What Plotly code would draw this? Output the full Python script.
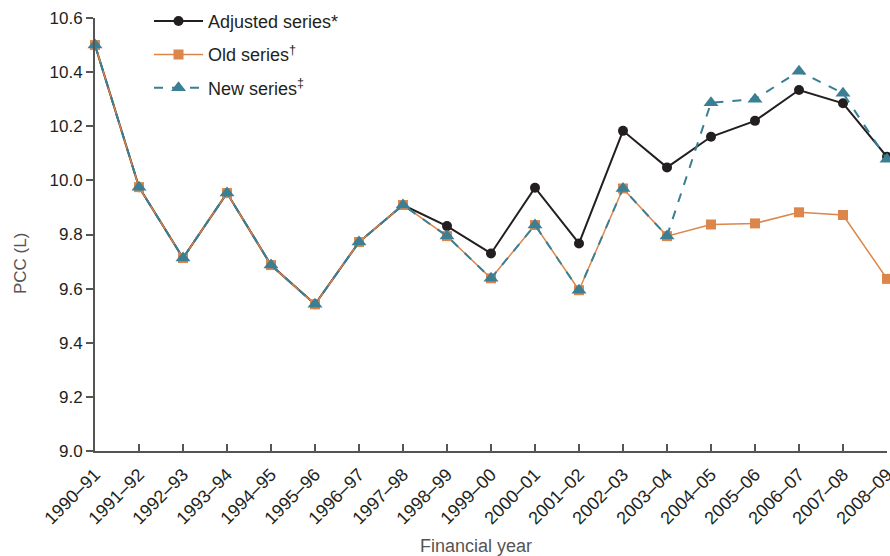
import plotly.graph_objects as go

years = ["1990–91", "1991–92", "1992–93", "1993–94", "1994–95", "1995–96", "1996–97",
         "1997–98", "1998–99", "1999–00", "2000–01", "2001–02", "2002–03", "2003–04",
         "2004–05", "2005–06", "2006–07", "2007–08", "2008–09"]
adjusted = [10.50, 9.975, 9.713, 9.953, 9.687, 9.542, 9.772, 9.909, 9.831, 9.730,
            9.973, 9.767, 10.183, 10.048, 10.161, 10.220, 10.334, 10.285, 10.087]
old = [10.50, 9.975, 9.713, 9.953, 9.687, 9.542, 9.772, 9.909, 9.794, 9.638,
       9.835, 9.594, 9.970, 9.794, 9.837, 9.841, 9.882, 9.872, 9.636]
new = [10.50, 9.975, 9.713, 9.953, 9.687, 9.542, 9.772, 9.909, 9.794, 9.638,
       9.835, 9.594, 9.970, 9.794, 10.287, 10.300, 10.403, 10.322, 10.078]
yticks = [9.0, 9.2, 9.4, 9.6, 9.8, 10.0, 10.2, 10.4, 10.6]

xi = list(range(len(years)))
BLACK = "#231f20"
ORANGE = "#dc864b"
TEAL = "#3a7f93"
AXIS = "#555555"

fig = go.Figure()
fig.add_trace(go.Scatter(x=xi, y=adjusted, name="Adjusted series*", mode="lines+markers",
                         line=dict(color=BLACK, width=2), marker=dict(symbol="circle", size=10, color=BLACK),
                         cliponaxis=False, legendgroup="a"))
fig.add_trace(go.Scatter(x=xi, y=old, name="Old series<sup>†</sup>", mode="lines+markers",
                         line=dict(color=ORANGE, width=1.5), marker=dict(symbol="square", size=10, color=ORANGE),
                         cliponaxis=False, legendgroup="b"))
fig.add_trace(go.Scatter(x=xi, y=new, name="New series<sup>‡</sup>", mode="lines+markers",
                         line=dict(color=TEAL, width=2, dash="dash"),
                         marker=dict(symbol="triangle-up", size=13, color=TEAL),
                         cliponaxis=False, legendgroup="c"))

fig.update_layout(
    width=890, height=556,
    margin=dict(l=95, r=3, t=18, b=105, autoexpand=False),
    plot_bgcolor="white", paper_bgcolor="white",
    font=dict(family="Liberation Sans, Arial, sans-serif", color="#231f20", size=17),
    showlegend=True,
    legend=dict(x=0.0682, y=1.035, xanchor="left", yanchor="top", bgcolor="rgba(0,0,0,0)",
                font=dict(size=18), tracegroupgap=7, traceorder="grouped", itemwidth=49),
    xaxis=dict(range=[0, 18], tickmode="array", tickvals=xi, ticktext=years, tickangle=-45,
               showline=True, linecolor=AXIS, linewidth=2, ticks="inside", ticklen=7,
               tickcolor=AXIS, tickwidth=1.5, showgrid=False, zeroline=False,
               tickfont=dict(size=18), automargin=False, ticklabeloverflow="allow",
               ticklabelstandoff=4),
    yaxis=dict(range=[9.0, 10.6], tickmode="array", tickvals=yticks,
               ticktext=[f"{v:.1f}" for v in yticks],
               showline=True, linecolor=AXIS, linewidth=2, ticks="outside", ticklen=7,
               tickcolor=AXIS, tickwidth=1.5, showgrid=False, zeroline=False,
               tickfont=dict(size=17), automargin=False),
    annotations=[
        dict(text="Financial year", xref="paper", yref="paper", x=0.481, y=-0.219,
             xanchor="center", yanchor="middle", showarrow=False,
             font=dict(size=18, color=AXIS)),
        dict(text="PCC (L)", xref="paper", yref="paper", x=-0.0947, y=0.434,
             xanchor="center", yanchor="middle", showarrow=False, textangle=-90,
             font=dict(size=17, color=AXIS)),
    ],
)

fig.write_html("out.html", config={"displayModeBar": False},
               post_script="document.body.style.margin='0';")
